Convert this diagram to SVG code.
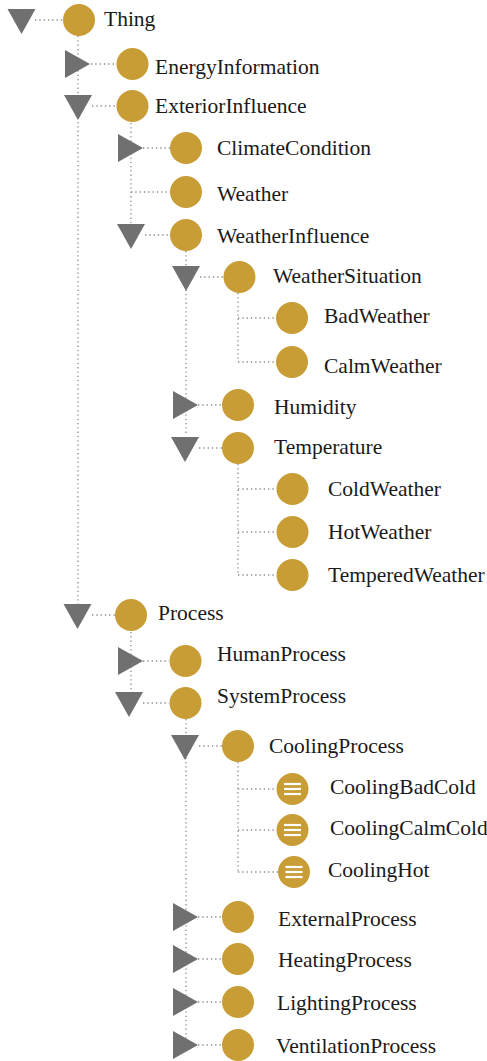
<svg xmlns="http://www.w3.org/2000/svg" width="487" height="1061" viewBox="0 0 487 1061">
<style>
.c{fill:#c89d35}
.t{fill:#707070}
text{font-family:'Liberation Serif','DejaVu Serif',serif;font-size:21.5px;fill:#1a1a1a}
.d{stroke:#8a8a8a;stroke-width:1.3;stroke-dasharray:1.3 3;fill:none}
.i{stroke:#fff;stroke-width:2.2}
</style>
<defs>
<polygon id="dn" class="t" points="-14,-11 14,-11 0,14"/>
<polygon id="rt" class="t" points="-13,-14 12,0 -13,14"/>
<g id="ind"><line class="i" x1="-8.5" y1="-5" x2="8.5" y2="-5"/><line class="i" x1="-8.5" y1="0" x2="8.5" y2="0"/><line class="i" x1="-8.5" y1="5" x2="8.5" y2="5"/></g>
</defs>
<g id="connectors">
<path class="d" d="M78,36V607 M131,123V223 M186,251V435 M238,293V362 M238,464V575 M131,632V692 M186,719V1045 M238,762V872"/>
<path class="d" d="M35,20H63 M91,64H116 M92,106H116 M143,148H170 M131,192H170 M145,235H170 M200,277H223 M238,318H276 M238,362H276 M198,405H222 M199,448H222 M238,489H276 M238,532H276 M238,575H276 M92,615H115 M143,661H169 M143,703H169 M199,746H222 M238,789H276 M238,830H276 M238,872H278 M198,917H222 M198,959H222 M198,1002H222 M198,1045H222"/>
</g>
<g font-family="Liberation Serif, DejaVu Serif, serif">
<g id="n-thing"><use href="#dn" x="21.5" y="20"/><circle class="c" cx="79" cy="20" r="16"/><text x="104" y="26">Thing</text></g>
<g id="n-energy"><use href="#rt" x="78" y="64"/><circle class="c" cx="132.5" cy="64" r="16"/><text x="155" y="74">EnergyInformation</text></g>
<g id="n-exterior"><use href="#dn" x="78" y="106"/><circle class="c" cx="132.5" cy="106" r="16"/><text x="155" y="113">ExteriorInfluence</text></g>
<g id="n-climate"><use href="#rt" x="131" y="148"/><circle class="c" cx="186" cy="148" r="16"/><text x="217" y="155">ClimateCondition</text></g>
<g id="n-weather"><circle class="c" cx="186" cy="192" r="16"/><text x="217" y="201">Weather</text></g>
<g id="n-weatherinfluence"><use href="#dn" x="131" y="235"/><circle class="c" cx="186" cy="235" r="16"/><text x="217" y="243">WeatherInfluence</text></g>
<g id="n-weathersituation"><use href="#dn" x="186" y="277"/><circle class="c" cx="239.5" cy="277" r="16"/><text x="273" y="283">WeatherSituation</text></g>
<g id="n-bad"><circle class="c" cx="292" cy="318" r="16"/><text x="324" y="323">BadWeather</text></g>
<g id="n-calm"><circle class="c" cx="292" cy="362" r="16"/><text x="324" y="373">CalmWeather</text></g>
<g id="n-humidity"><use href="#rt" x="186" y="405"/><circle class="c" cx="238" cy="405" r="16"/><text x="274" y="414">Humidity</text></g>
<g id="n-temperature"><use href="#dn" x="185" y="448"/><circle class="c" cx="238" cy="448" r="16"/><text x="274" y="454">Temperature</text></g>
<g id="n-cold"><circle class="c" cx="292.5" cy="489" r="16"/><text x="328" y="496">ColdWeather</text></g>
<g id="n-hot"><circle class="c" cx="292.5" cy="532" r="16"/><text x="328" y="539">HotWeather</text></g>
<g id="n-tempered"><circle class="c" cx="292.5" cy="575" r="16"/><text x="328" y="582">TemperedWeather</text></g>
<g id="n-process"><use href="#dn" x="77.5" y="615"/><circle class="c" cx="131" cy="615" r="16"/><text x="158" y="620">Process</text></g>
<g id="n-human"><use href="#rt" x="131" y="661"/><circle class="c" cx="185.5" cy="661" r="16"/><text x="217" y="661">HumanProcess</text></g>
<g id="n-system"><use href="#dn" x="129" y="703"/><circle class="c" cx="185.5" cy="703" r="16"/><text x="217" y="703">SystemProcess</text></g>
<g id="n-cooling"><use href="#dn" x="185" y="746"/><circle class="c" cx="238" cy="746" r="16"/><text x="269" y="753">CoolingProcess</text></g>
<g id="n-coolingbad"><circle class="c" cx="292.5" cy="789" r="16"/><use href="#ind" x="292.5" y="789"/><text x="330" y="794">CoolingBadCold</text></g>
<g id="n-coolingcalm"><circle class="c" cx="292.5" cy="830" r="16"/><use href="#ind" x="292.5" y="830"/><text x="330" y="835">CoolingCalmCold</text></g>
<g id="n-coolinghot"><circle class="c" cx="294" cy="872" r="16"/><use href="#ind" x="294" y="872"/><text x="328" y="877">CoolingHot</text></g>
<g id="n-external"><use href="#rt" x="186" y="917"/><circle class="c" cx="238" cy="917" r="16"/><text x="278" y="926">ExternalProcess</text></g>
<g id="n-heating"><use href="#rt" x="186" y="959"/><circle class="c" cx="238" cy="959" r="16"/><text x="278" y="967">HeatingProcess</text></g>
<g id="n-lighting"><use href="#rt" x="186" y="1002"/><circle class="c" cx="238" cy="1002" r="16"/><text x="277" y="1010">LightingProcess</text></g>
<g id="n-ventilation"><use href="#rt" x="186" y="1045"/><circle class="c" cx="238" cy="1045" r="16"/><text x="276" y="1053">VentilationProcess</text></g>
</g>
</svg>
